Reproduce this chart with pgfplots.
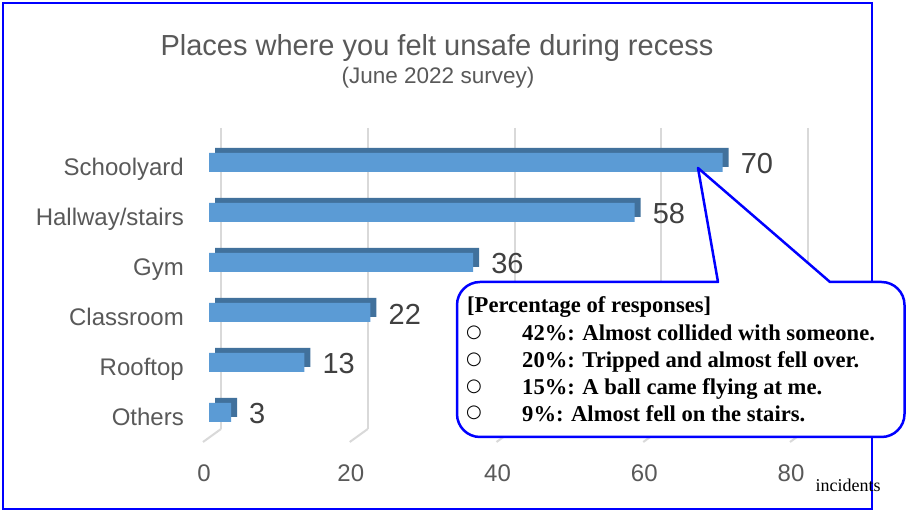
\documentclass[border=0pt]{standalone}
\usepackage{fontspec}
\setmainfont{Liberation Sans}
\newfontfamily\serifb{Liberation Serif}
\newfontfamily\symf{DejaVu Sans}
\usepackage{pgfplots}
\usepackage{pgfplotstable}
\pgfplotsset{compat=1.18}
\definecolor{barblue}{HTML}{5B9BD5}
\definecolor{bardark}{HTML}{41719C}
\definecolor{txtgray}{HTML}{595959}
\definecolor{lblgray}{HTML}{404040}
\definecolor{gridgray}{HTML}{D9D9D9}
\definecolor{callblue}{RGB}{0,0,255}

\pgfplotstableread{
idx val
0 70
1 58
2 36
3 22
4 13
5 3
}\datatab

\begin{document}
\begin{tikzpicture}[x=1bp,y=1bp]
\useasboundingbox (0,0) rectangle (906,518);
\fill[white] (0,0) rectangle (906,518);
\draw[callblue, line width=2bp] (3,515) rectangle (872,9);
\node[txtgray, anchor=base, inner sep=0, font=\fontsize{29bp}{33bp}\selectfont] at (437,462.6) {Places where you felt unsafe during recess};
\node[txtgray, anchor=base, inner sep=0, font=\fontsize{22.5bp}{26bp}\selectfont] at (438,434) {(June 2022 survey)};
\begin{scope}[shift={(221bp,89bp)}]
\begin{axis}[
  name=main,
  scale only axis, width=623.69bp, height=301bp,
  xmin=0, xmax=85, ymin=-0.69, ymax=5.33, y dir=reverse,
  axis line style={draw=none}, major tick length=0pt,
  xmajorgrids, major grid style={draw=gridgray, line width=2bp},
  xtick={0,20,40,60,80}, xticklabels={0,20,40,60,80},
  ytick={0,1,2,3,4,5},
  yticklabels={Schoolyard,Hallway/stairs,Gym,Classroom,Rooftop,Others},
  xticklabel style={anchor=center, inner sep=0pt, yshift=-44bp, xshift=-17bp, text=txtgray, font=\fontsize{24bp}{28bp}\selectfont},
  yticklabel style={anchor=base east, inner sep=0pt, xshift=-37bp, yshift=-12.6bp, text=txtgray, font=\fontsize{24bp}{28bp}\selectfont},
  /pgf/number format/assume math mode=true,
  clip=false,
]
\pgfplotsinvokeforeach{0,20,40,60,80}{\draw[gridgray, line width=2bp] (axis cs:#1,5.33) -- ++(-18bp,-13bp);}
\addplot[xbar, bar shift=0pt, bar width=19bp, fill=bardark, draw=none, xshift=-6bp, yshift=5bp] table[x=val,y=idx]{\datatab};
\addplot[xbar, bar shift=0pt, bar width=19bp, fill=barblue, draw=none, xshift=-12bp,
  nodes near coords,
  nodes near coords style={anchor=west, inner sep=0pt, xshift=18bp, yshift=-1.5bp, text=lblgray, font=\fontsize{29bp}{33bp}\selectfont}
] table[x=val,y=idx]{\datatab};
\end{axis}
\end{scope}
\node[anchor=base, inner sep=0, font=\serifb\fontsize{18bp}{20bp}\selectfont] at (848,26) {incidents};
\draw[callblue, line width=2.5bp, fill=white, line join=round]
  (718,236) -- (698,350) -- (830,236) -- (881.5,236)
  arc[start angle=90,end angle=0,radius=23] -- (904.5,104)
  arc[start angle=0,end angle=-90,radius=23] -- (480,81)
  arc[start angle=270,end angle=180,radius=23] -- (457,213)
  arc[start angle=180,end angle=90,radius=23] -- cycle;
\begin{scope}[every node/.style={inner sep=0pt, font=\serifb\bfseries\fontsize{22.6bp}{25bp}\selectfont}]
\node[anchor=base west] at (467,205) {[Percentage of responses]};
\node[anchor=base west] at (522,177) {42\%: Almost collided with someone.};
\node[anchor=base west] at (522,150) {20\%: Tripped and almost fell over.};
\node[anchor=base west] at (522,123) {15\%: A ball came flying at me.};
\node[anchor=base west] at (522,96) {9\%: Almost fell on the stairs.};
\end{scope}
\begin{scope}[every node/.style={inner sep=0pt, font=\symf\fontsize{18bp}{20bp}\selectfont}]
\node at (474,185) {○};
\node at (474,158) {○};
\node at (474,131) {○};
\node at (474,105) {○};
\end{scope}
\end{tikzpicture}
\end{document}
